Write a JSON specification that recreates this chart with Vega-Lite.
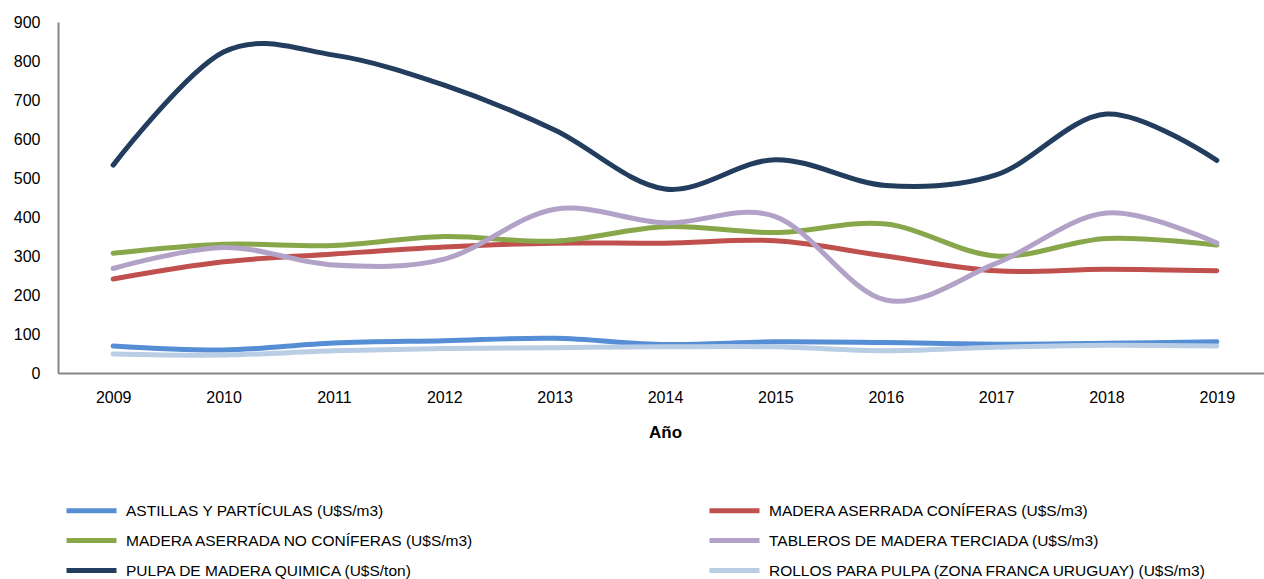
{
  "$schema": "https://vega.github.io/schema/vega-lite/v6.json",
  "autosize": "none",
  "padding": {"left": 58, "top": 22, "right": 0, "bottom": 206},
  "width": 1214,
  "height": 351,
  "background": "white",
  "config": {
    "view": {"stroke": null},
    "font": "Liberation Sans",
    "axis": {"labelFont": "Liberation Sans", "titleFont": "Liberation Sans"}
  },
  "data": {
    "values": [
      {"year": "2009", "serie": "ASTILLAS Y PARTÍCULAS (U$S/m3)", "value": 69},
      {"year": "2010", "serie": "ASTILLAS Y PARTÍCULAS (U$S/m3)", "value": 59},
      {"year": "2011", "serie": "ASTILLAS Y PARTÍCULAS (U$S/m3)", "value": 77},
      {"year": "2012", "serie": "ASTILLAS Y PARTÍCULAS (U$S/m3)", "value": 83},
      {"year": "2013", "serie": "ASTILLAS Y PARTÍCULAS (U$S/m3)", "value": 89},
      {"year": "2014", "serie": "ASTILLAS Y PARTÍCULAS (U$S/m3)", "value": 73},
      {"year": "2015", "serie": "ASTILLAS Y PARTÍCULAS (U$S/m3)", "value": 80},
      {"year": "2016", "serie": "ASTILLAS Y PARTÍCULAS (U$S/m3)", "value": 78},
      {"year": "2017", "serie": "ASTILLAS Y PARTÍCULAS (U$S/m3)", "value": 74},
      {"year": "2018", "serie": "ASTILLAS Y PARTÍCULAS (U$S/m3)", "value": 76},
      {"year": "2019", "serie": "ASTILLAS Y PARTÍCULAS (U$S/m3)", "value": 80},
      {"year": "2009", "serie": "MADERA ASERRADA CONÍFERAS (U$S/m3)", "value": 241},
      {"year": "2010", "serie": "MADERA ASERRADA CONÍFERAS (U$S/m3)", "value": 285},
      {"year": "2011", "serie": "MADERA ASERRADA CONÍFERAS (U$S/m3)", "value": 305},
      {"year": "2012", "serie": "MADERA ASERRADA CONÍFERAS (U$S/m3)", "value": 323},
      {"year": "2013", "serie": "MADERA ASERRADA CONÍFERAS (U$S/m3)", "value": 333},
      {"year": "2014", "serie": "MADERA ASERRADA CONÍFERAS (U$S/m3)", "value": 333},
      {"year": "2015", "serie": "MADERA ASERRADA CONÍFERAS (U$S/m3)", "value": 339},
      {"year": "2016", "serie": "MADERA ASERRADA CONÍFERAS (U$S/m3)", "value": 300},
      {"year": "2017", "serie": "MADERA ASERRADA CONÍFERAS (U$S/m3)", "value": 262},
      {"year": "2018", "serie": "MADERA ASERRADA CONÍFERAS (U$S/m3)", "value": 266},
      {"year": "2019", "serie": "MADERA ASERRADA CONÍFERAS (U$S/m3)", "value": 262},
      {"year": "2009", "serie": "MADERA ASERRADA NO CONÍFERAS (U$S/m3)", "value": 307},
      {"year": "2010", "serie": "MADERA ASERRADA NO CONÍFERAS (U$S/m3)", "value": 330},
      {"year": "2011", "serie": "MADERA ASERRADA NO CONÍFERAS (U$S/m3)", "value": 327},
      {"year": "2012", "serie": "MADERA ASERRADA NO CONÍFERAS (U$S/m3)", "value": 350},
      {"year": "2013", "serie": "MADERA ASERRADA NO CONÍFERAS (U$S/m3)", "value": 338},
      {"year": "2014", "serie": "MADERA ASERRADA NO CONÍFERAS (U$S/m3)", "value": 375},
      {"year": "2015", "serie": "MADERA ASERRADA NO CONÍFERAS (U$S/m3)", "value": 360},
      {"year": "2016", "serie": "MADERA ASERRADA NO CONÍFERAS (U$S/m3)", "value": 382},
      {"year": "2017", "serie": "MADERA ASERRADA NO CONÍFERAS (U$S/m3)", "value": 300},
      {"year": "2018", "serie": "MADERA ASERRADA NO CONÍFERAS (U$S/m3)", "value": 345},
      {"year": "2019", "serie": "MADERA ASERRADA NO CONÍFERAS (U$S/m3)", "value": 328},
      {"year": "2009", "serie": "TABLEROS DE MADERA TERCIADA (U$S/m3)", "value": 268},
      {"year": "2010", "serie": "TABLEROS DE MADERA TERCIADA (U$S/m3)", "value": 322},
      {"year": "2011", "serie": "TABLEROS DE MADERA TERCIADA (U$S/m3)", "value": 277},
      {"year": "2012", "serie": "TABLEROS DE MADERA TERCIADA (U$S/m3)", "value": 292},
      {"year": "2013", "serie": "TABLEROS DE MADERA TERCIADA (U$S/m3)", "value": 420},
      {"year": "2014", "serie": "TABLEROS DE MADERA TERCIADA (U$S/m3)", "value": 385},
      {"year": "2015", "serie": "TABLEROS DE MADERA TERCIADA (U$S/m3)", "value": 401},
      {"year": "2016", "serie": "TABLEROS DE MADERA TERCIADA (U$S/m3)", "value": 187},
      {"year": "2017", "serie": "TABLEROS DE MADERA TERCIADA (U$S/m3)", "value": 281},
      {"year": "2018", "serie": "TABLEROS DE MADERA TERCIADA (U$S/m3)", "value": 410},
      {"year": "2019", "serie": "TABLEROS DE MADERA TERCIADA (U$S/m3)", "value": 333},
      {"year": "2009", "serie": "PULPA DE MADERA QUIMICA (U$S/ton)", "value": 533},
      {"year": "2010", "serie": "PULPA DE MADERA QUIMICA (U$S/ton)", "value": 823},
      {"year": "2011", "serie": "PULPA DE MADERA QUIMICA (U$S/ton)", "value": 815},
      {"year": "2012", "serie": "PULPA DE MADERA QUIMICA (U$S/ton)", "value": 738},
      {"year": "2013", "serie": "PULPA DE MADERA QUIMICA (U$S/ton)", "value": 623},
      {"year": "2014", "serie": "PULPA DE MADERA QUIMICA (U$S/ton)", "value": 472},
      {"year": "2015", "serie": "PULPA DE MADERA QUIMICA (U$S/ton)", "value": 547},
      {"year": "2016", "serie": "PULPA DE MADERA QUIMICA (U$S/ton)", "value": 481},
      {"year": "2017", "serie": "PULPA DE MADERA QUIMICA (U$S/ton)", "value": 508},
      {"year": "2018", "serie": "PULPA DE MADERA QUIMICA (U$S/ton)", "value": 664},
      {"year": "2019", "serie": "PULPA DE MADERA QUIMICA (U$S/ton)", "value": 545},
      {"year": "2009", "serie": "ROLLOS PARA PULPA (ZONA FRANCA URUGUAY) (U$S/m3)", "value": 49},
      {"year": "2010", "serie": "ROLLOS PARA PULPA (ZONA FRANCA URUGUAY) (U$S/m3)", "value": 46},
      {"year": "2011", "serie": "ROLLOS PARA PULPA (ZONA FRANCA URUGUAY) (U$S/m3)", "value": 57},
      {"year": "2012", "serie": "ROLLOS PARA PULPA (ZONA FRANCA URUGUAY) (U$S/m3)", "value": 63},
      {"year": "2013", "serie": "ROLLOS PARA PULPA (ZONA FRANCA URUGUAY) (U$S/m3)", "value": 65},
      {"year": "2014", "serie": "ROLLOS PARA PULPA (ZONA FRANCA URUGUAY) (U$S/m3)", "value": 67},
      {"year": "2015", "serie": "ROLLOS PARA PULPA (ZONA FRANCA URUGUAY) (U$S/m3)", "value": 67},
      {"year": "2016", "serie": "ROLLOS PARA PULPA (ZONA FRANCA URUGUAY) (U$S/m3)", "value": 57},
      {"year": "2017", "serie": "ROLLOS PARA PULPA (ZONA FRANCA URUGUAY) (U$S/m3)", "value": 66},
      {"year": "2018", "serie": "ROLLOS PARA PULPA (ZONA FRANCA URUGUAY) (U$S/m3)", "value": 71},
      {"year": "2019", "serie": "ROLLOS PARA PULPA (ZONA FRANCA URUGUAY) (U$S/m3)", "value": 69}
    ]
  },
  "mark": {"type": "line", "interpolate": "cardinal", "strokeWidth": 5, "strokeCap": "round", "strokeJoin": "round"},
  "encoding": {
    "x": {
      "field": "year", "type": "ordinal",
      "scale": {"type": "point", "padding": 0.5},
      "axis": {
        "title": "Año", "titleFontSize": 17, "titleFontWeight": "bold", "titleColor": "black", "titlePadding": 19,
        "labelAngle": 0, "labelFontSize": 16, "labelColor": "black", "labelPadding": 16,
        "ticks": false, "domainColor": "#868686", "domainWidth": 2, "grid": false
      }
    },
    "y": {
      "field": "value", "type": "quantitative",
      "scale": {"domain": [0, 900], "nice": false},
      "axis": {
        "title": null, "values": [0, 100, 200, 300, 400, 500, 600, 700, 800, 900],
        "labelFontSize": 16, "labelColor": "black", "labelPadding": 18,
        "ticks": false, "domainColor": "#868686", "domainWidth": 2, "grid": false
      }
    },
    "color": {
      "field": "serie", "type": "nominal", "sort": null,
      "scale": {
        "domain": [
          "ASTILLAS Y PARTÍCULAS (U$S/m3)",
          "MADERA ASERRADA NO CONÍFERAS (U$S/m3)",
          "PULPA DE MADERA QUIMICA (U$S/ton)",
          "MADERA ASERRADA CONÍFERAS (U$S/m3)",
          "TABLEROS DE MADERA TERCIADA (U$S/m3)",
          "ROLLOS PARA PULPA (ZONA FRANCA URUGUAY) (U$S/m3)"
        ],
        "range": ["#558ED5", "#88A64A", "#233D5E", "#C0504D", "#B3A2C7", "#B9CDE5"]
      },
      "legend": {
        "title": null, "orient": "none", "legendX": 21, "legendY": 476,
        "columns": 2, "columnPadding": 224, "rowPadding": 7,
        "symbolType": "M-2.5,0H2.5", "symbolSize": 400, "symbolStrokeWidth": 5,
        "labelFontSize": 15.5, "labelColor": "black", "labelOffset": 22, "labelLimit": 600
      }
    }
  }
}
